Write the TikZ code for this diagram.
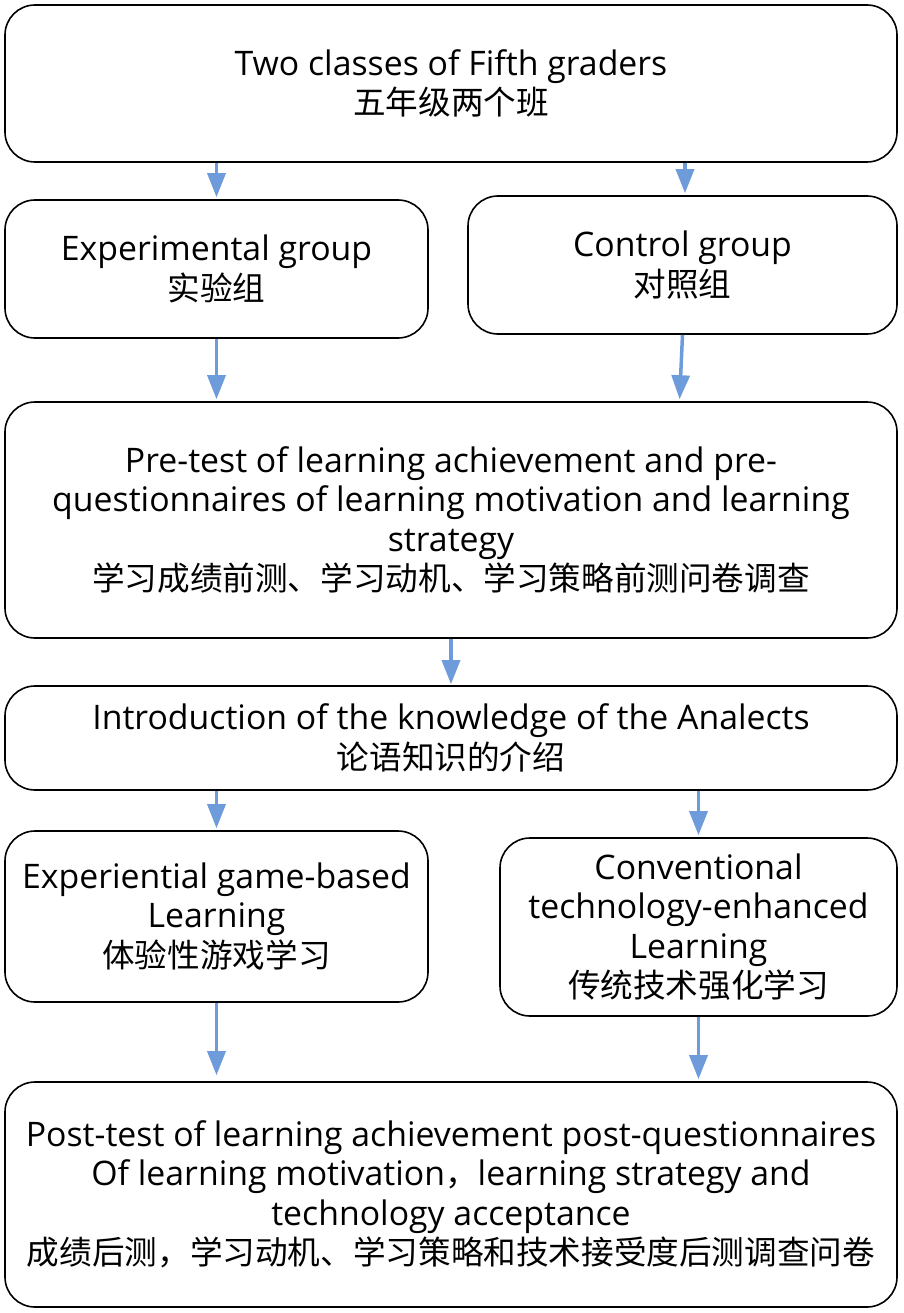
\documentclass[tikz,border=0pt]{standalone}
\usepackage{fontspec}
\setmainfont{Open Sans}
\newfontfamily\cjk[Scale=0.965]{Noto Sans CJK SC}
\usetikzlibrary{arrows.meta,calc}
\definecolor{arrowblue}{HTML}{6E9CDB}
\tikzset{
  box/.style={draw=black, line width=1.6pt, rounded corners=30pt, inner sep=0pt, align=center,
    font=\fontsize{33.8}{39.5}\selectfont},
  arr/.style={draw=arrowblue, line width=3.5pt, -{Triangle[length=24pt,width=18pt]}, shorten >=2pt}
}
\begin{document}
\begin{tikzpicture}[x=1pt,y=-1pt]
\useasboundingbox (0,0) rectangle (903,1313);
\node[box, minimum width=892pt, minimum height=157pt] (top) at (451,83.5)
  {Two classes of Fifth graders\\{\cjk 五年级两个班}};
\node[box, minimum width=423pt, minimum height=138pt] (exp) at (216.5,269)
  {Experimental group\\{\cjk 实验组}};
\node[box, minimum width=429pt, minimum height=138pt] (ctl) at (682.5,265)
  {Control group\\{\cjk 对照组}};
\node[box, minimum width=892pt, minimum height=236pt] (pre) at (451,520)
  {Pre-test of learning achievement and pre-\\questionnaires of learning motivation and learning\\strategy\\{\cjk 学习成绩前测、学习动机、学习策略前测问卷调查}};
\node[box, minimum width=892pt, minimum height=104pt] (intro) at (451,738)
  {Introduction of the knowledge of the Analects\\{\cjk 论语知识的介绍}};
\node[box, minimum width=423pt, minimum height=171pt] (egl) at (216.5,916.5)
  {Experiential game-based\\Learning\\{\cjk 体验性游戏学习}};
\node[box, minimum width=397pt, minimum height=178pt] (conv) at (698.5,927)
  {Conventional\\technology-enhanced\\Learning\\{\cjk 传统技术强化学习}};
\node[box, minimum width=892pt, minimum height=225pt] (post) at (451,1194.5)
  {Post-test of learning achievement post-questionnaires\\Of learning motivation{\cjk ，}learning strategy and\\technology acceptance\\{\cjk 成绩后测，学习动机、学习策略和技术接受度后测调查问卷}};
\draw[arr] (top.south -| exp.north) -- (exp.north);
\draw[arr] ($(top.south -| ctl.north)+(2.5,0)$) -- ($(ctl.north)+(2.5,0)$);
\draw[arr] (exp.south) -- (pre.north -| exp.south);
\draw[arr] (ctl.south) -- ($(pre.north -| ctl.south)+(-3,0)$);
\draw[arr, shorten >=1pt] (pre.south) -- (intro.north);
\draw[arr] (intro.south -| egl.north) -- (egl.north);
\draw[arr] (intro.south -| conv.north) -- (conv.north);
\draw[arr, shorten >=6pt] (egl.south) -- (post.north -| egl.south);
\draw[arr] (conv.south) -- (post.north -| conv.south);
\end{tikzpicture}
\end{document}
